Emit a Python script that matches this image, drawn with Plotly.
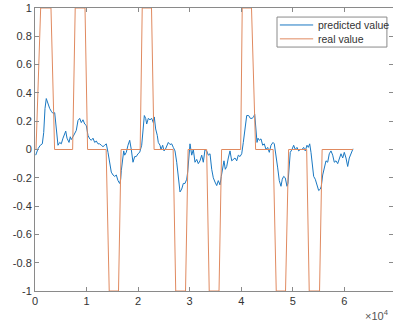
import plotly.graph_objects as go

# x values are in units of 10^4
real_x = [0, 0.02, 0.11, 0.31, 0.38, 0.73, 0.78, 0.97, 1.02, 1.38, 1.44, 1.62, 1.67,
          2.04, 2.08, 2.26, 2.31, 2.68, 2.73, 2.92, 2.97, 3.33, 3.38, 3.57, 3.62,
          3.99, 4.02, 4.20, 4.28, 4.62, 4.68, 4.86, 4.92, 5.27, 5.32, 5.52, 5.57, 6.17]
real_y = [0, 0, 1, 1, 0, 0, 1, 1, 0, 0, -1, -1, 0,
          0, 1, 1, 0, 0, -1, -1, 0, 0, -1, -1, 0,
          0, 1, 1, 0, 0, -1, -1, 0, 0, -1, -1, 0, 0]

pred_x = [0.014, 0.058, 0.103, 0.142, 0.169, 0.194, 0.219, 0.252, 0.285, 0.316, 0.349, 0.382,
          0.402, 0.427, 0.446, 0.479, 0.510, 0.543, 0.576, 0.596, 0.621, 0.660, 0.685, 0.704,
          0.737, 0.770, 0.801, 0.834, 0.867, 0.898, 0.931, 0.964, 0.995, 1.028, 1.061, 1.092,
          1.125, 1.158, 1.189, 1.222, 1.255, 1.286, 1.319, 1.352, 1.383, 1.416, 1.449, 1.480,
          1.513, 1.546, 1.577, 1.610, 1.643, 1.662, 1.674, 1.694, 1.721, 1.740, 1.771, 1.804,
          1.837, 1.868, 1.901, 1.934, 1.965, 1.998, 2.031,
          2.070, 2.101, 2.121, 2.147, 2.167, 2.198, 2.231, 2.264, 2.295, 2.314, 2.341, 2.372,
          2.392, 2.425, 2.444, 2.477, 2.502, 2.528, 2.555, 2.586, 2.619, 2.652, 2.683, 2.716,
          2.749, 2.780, 2.813, 2.846, 2.877, 2.910, 2.943, 2.962, 2.987, 3.007, 3.040, 3.071,
          3.104, 3.137, 3.168, 3.201, 3.234, 3.265, 3.298, 3.331, 3.362, 3.395, 3.428, 3.459,
          3.492, 3.525, 3.556, 3.589, 3.614, 3.641, 3.666, 3.692, 3.719, 3.750, 3.783, 3.816,
          3.847, 3.880, 3.913, 3.944, 3.977, 4.010, 4.041, 4.074, 4.107,
          4.145, 4.177, 4.209, 4.242, 4.262, 4.287, 4.307, 4.326, 4.351, 4.384, 4.417, 4.448,
          4.481, 4.514, 4.545, 4.578, 4.617, 4.642, 4.675, 4.708, 4.739, 4.772, 4.797, 4.824,
          4.855, 4.888, 4.907, 4.927, 4.952, 4.985, 5.018, 5.049, 5.082, 5.115, 5.146, 5.179,
          5.212, 5.243, 5.276, 5.302, 5.329, 5.354, 5.379, 5.406, 5.437, 5.457, 5.484, 5.503,
          5.534, 5.554, 5.581, 5.612, 5.645, 5.678, 5.709, 5.742, 5.775, 5.806, 5.839, 5.872,
          5.903, 5.936, 5.969, 6.000, 6.033, 6.066, 6.097, 6.130, 6.169]
pred_y = [-0.04, 0.005, 0.03, 0.04, 0.12, 0.29, 0.36, 0.32, 0.29, 0.27, 0.255, 0.26,
          0.19, 0.08, 0.03, 0.05, 0.04, 0.08, 0.11, 0.13, 0.08, 0.05, 0.09, 0.07,
          0.09, 0.11, 0.135, 0.205, 0.22, 0.19, 0.21, 0.18, 0.17, 0.10, 0.075, 0.065,
          0.08, 0.05, 0.06, 0.04, 0.04, 0.03, 0.02, 0.03, 0.04, -0.02, -0.09, -0.16,
          -0.18, -0.19, -0.18, -0.22, -0.24, -0.21, -0.15, -0.07, -0.01, -0.04, -0.02, 0.03,
          0.065, 0.0, -0.09, -0.05, -0.05, -0.03, -0.02,
          0.03, 0.19, 0.24, 0.22, 0.18, 0.22, 0.21, 0.22, 0.19, 0.23, 0.145, 0.10,
          0.05, 0.03, 0.0, 0.03, -0.01, 0.0, 0.03, 0.05, 0.035, 0.04, 0.015, -0.01,
          -0.09, -0.21, -0.30, -0.28, -0.24, -0.24, -0.21, -0.16, -0.02, 0.04, -0.04, 0.0,
          -0.09, -0.07, -0.10, -0.08, -0.04, -0.09, 0.0, -0.01, -0.04, -0.03, -0.14, -0.20,
          -0.23, -0.255, -0.22, -0.25, -0.19, -0.13, -0.08, -0.14, -0.12, -0.06, -0.01, -0.08,
          -0.07, -0.06, -0.08, -0.04, -0.05, -0.03, 0.05, 0.15, 0.24,
          0.24, 0.22, 0.22, 0.23, 0.25, 0.145, 0.05, 0.08, 0.065, 0.075, 0.03, 0.04,
          0.0, 0.015, -0.02, 0.03, 0.05, 0.04, -0.03, -0.13, -0.22, -0.26, -0.21, -0.19,
          -0.20, -0.26, -0.24, -0.12, -0.02, 0.0, 0.03, 0.0, 0.015, -0.01, 0.0, 0.0,
          0.015, -0.01, 0.03, 0.015, 0.04, -0.02, -0.12, -0.19, -0.21, -0.24, -0.26, -0.29,
          -0.28, -0.26, -0.18, -0.12, -0.08, -0.09, -0.03, -0.01, -0.04, -0.09, -0.08, -0.10,
          -0.06, -0.03, -0.06, -0.02, -0.06, -0.12, -0.06, -0.03, 0.005]

x_ticks = [0, 1, 2, 3, 4, 5, 6, 7]
y_ticks = [-1, -0.8, -0.6, -0.4, -0.2, 0, 0.2, 0.4, 0.6, 0.8, 1]
y_labels = ["-1", "-0.8", "-0.6", "-0.4", "-0.2", "0", "0.2", "0.4", "0.6", "0.8", "1"]
series_names = ["predicted value", "real value"]
series_colors = ["#1A78C2", "#E08A60"]

fig = go.Figure()
fig.add_trace(go.Scatter(x=pred_x, y=pred_y, mode="lines", name=series_names[0],
                         line=dict(color=series_colors[0], width=1), showlegend=False))
fig.add_trace(go.Scatter(x=real_x, y=real_y, mode="lines", name=series_names[1],
                         line=dict(color=series_colors[1], width=1), showlegend=False))

axis_common = dict(showgrid=False, zeroline=False, showline=True, linecolor="#8a8a8a",
                   linewidth=1, mirror="ticks", ticks="inside", ticklen=4,
                   tickcolor="#8a8a8a", automargin=False,
                   tickfont=dict(family="Liberation Sans", size=11, color="#333"))
fig.update_xaxes(range=[0, 6.945], tickvals=x_ticks, ticktext=[str(t) for t in x_ticks], **axis_common)
fig.update_yaxes(range=[-1, 1], tickvals=y_ticks, ticktext=y_labels, **axis_common)

# MATLAB-style legend box (compact rows)
shapes = [dict(type="rect", xref="paper", yref="paper", x0=0.676, x1=0.983, y0=0.862, y1=0.968,
               line=dict(color="#8a8a8a", width=1), fillcolor="white", layer="above")]
annotations = []
for i, (nm, col) in enumerate(zip(series_names, series_colors)):
    yy = 0.940 - i * 0.049
    shapes.append(dict(type="line", xref="paper", yref="paper", x0=0.684, x1=0.777, y0=yy, y1=yy,
                       line=dict(color=col, width=1), layer="above"))
    annotations.append(dict(text=nm, xref="paper", yref="paper", x=0.785, y=yy,
                            xanchor="left", yanchor="middle", showarrow=False,
                            font=dict(family="Liberation Sans", size=10.5, color="#333")))
annotations.append(dict(text="×10<sup>4</sup>", xref="paper", yref="paper",
                        x=0.995, y=-0.118, xanchor="right", yanchor="bottom", showarrow=False,
                        font=dict(family="Liberation Sans", size=11, color="#555")))

fig.update_layout(
    width=393, height=326,
    margin=dict(l=35, r=0, t=8, b=34.5, autoexpand=False),
    plot_bgcolor="white", paper_bgcolor="white",
    showlegend=False,
    shapes=shapes,
    annotations=annotations,
)

fig.write_html("out.html", config={"displayModeBar": False},
               post_script="document.body.style.margin='0';document.body.style.overflow='hidden';")
